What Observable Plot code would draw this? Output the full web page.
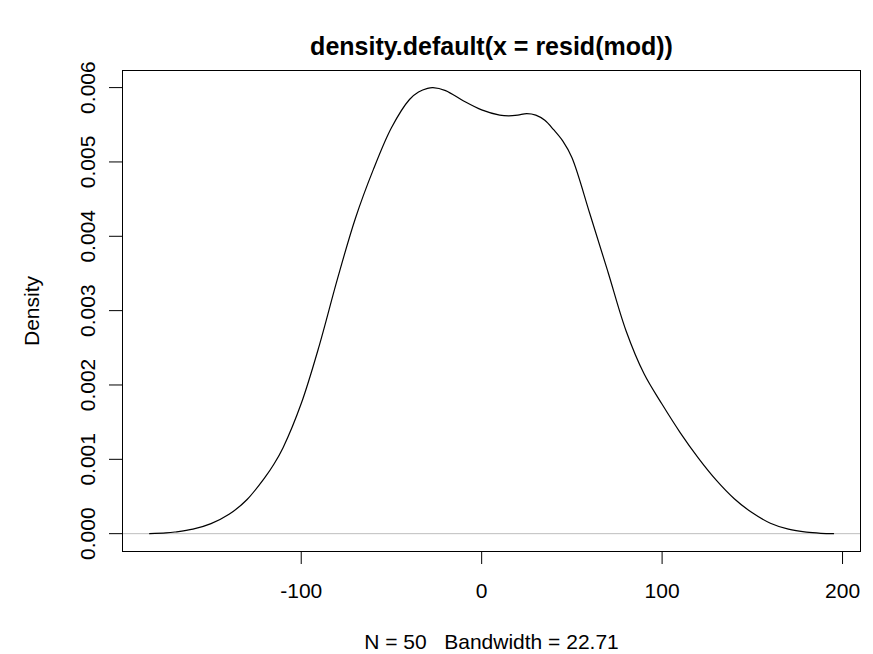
<!DOCTYPE html>
<html>
<head>
<meta charset="utf-8">
<script src="https://cdn.jsdelivr.net/npm/d3@7"></script>
<script src="https://cdn.jsdelivr.net/npm/@observablehq/plot@0.6"></script>
<style>
  html, body { margin: 0; padding: 0; background: #fff; }
  #chart svg { display: block; }
</style>
</head>
<body>
<div id="chart"></div>
<script>
// Values
const titleText = "density.default(x = resid(mod))";
const xLabelText = "N = 50   Bandwidth = 22.71";
const yLabelText = "Density";
const xTicks = [-100, 0, 100, 200];
const yTicks = [0, 0.001, 0.002, 0.003, 0.004, 0.005, 0.006];
const resid = [-184, -175, -170, -160, -150, -140, -130, -120, -115, -110, -100, -90, -80, -70, -60, -50, -40, -35, -30, -27, -20, -10, 0, 10, 15, 20, 25, 30, 35, 40, 45, 50, 60, 70, 80, 90, 100, 110, 120, 130, 140, 150, 160, 170, 180, 188, 195];
const dens = [0.000000, 0.00001, 0.000022, 0.00006, 0.000135, 0.00026, 0.00046, 0.00076, 0.00094, 0.00116, 0.00175, 0.00253, 0.00342, 0.00424, 0.0049, 0.00546, 0.00584, 0.00594, 0.00599, 0.00600, 0.00596, 0.00582, 0.00570, 0.00563, 0.00562, 0.00563, 0.00565, 0.00563, 0.00556, 0.00543, 0.00528, 0.00506, 0.0043, 0.00352, 0.00273, 0.00215, 0.00174, 0.00136, 0.00102, 0.00072, 0.00047, 0.00028, 0.00014, 0.00006, 0.00002, 0.000005, 0.0];

const data = resid.map((x, i) => ({x, y: dens[i]}));
const fmt = d3.format(".3f");

const chart = Plot.plot({
  width: 873,
  height: 654,
  marginLeft: 122,
  marginRight: 13,
  marginTop: 70,
  marginBottom: 103,
  style: {fontFamily: "'Liberation Sans', Arial, Helvetica, sans-serif", fontSize: "21px", color: "black", background: "white"},
  x: {domain: [-199.05, 209.95]},
  y: {domain: [-0.00024, 0.00623]},
  marks: [
    Plot.ruleY([0], {stroke: "#bebebe", strokeWidth: 1}),
    Plot.line(data, {x: "x", y: "y", stroke: "black", strokeWidth: 1.2, curve: "catmull-rom"}),
    Plot.frame({stroke: "black", strokeWidth: 1}),
    Plot.axisX({ticks: xTicks, tickSize: 13, tickPadding: 19, fontSize: 21, label: null, tickFormat: d => d3.format("d")(d).replace("−", "-")}),
    Plot.axisY({ticks: yTicks, tickSize: 13, tickFormat: () => "", label: null}),
    Plot.text(yTicks, {y: d => d, frameAnchor: "left", dx: -28, rotate: -90, textAnchor: "middle", lineAnchor: "bottom", text: d => fmt(d), fontSize: 21}),
    Plot.text([yLabelText], {frameAnchor: "left", dx: -90, rotate: -90, textAnchor: "middle", lineAnchor: "middle", text: d => d, fontSize: 21}),
    Plot.text([titleText], {frameAnchor: "top", dy: -16, lineAnchor: "bottom", text: d => d, fontSize: 25, fontWeight: "bold"}),
    Plot.text([xLabelText], {frameAnchor: "bottom", dy: 97, lineAnchor: "bottom", text: d => d, fontSize: 21})
  ]
});
document.getElementById("chart").appendChild(chart);
</script>
</body>
</html>
